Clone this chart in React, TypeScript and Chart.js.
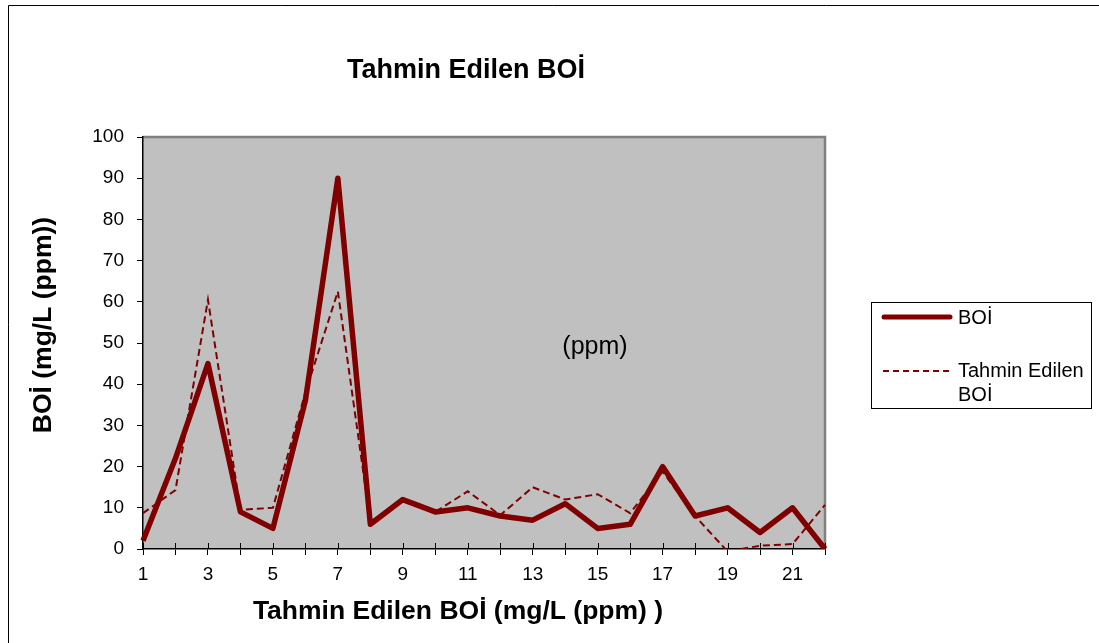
import React, { useEffect, useRef } from "react";
import { Chart, registerables } from "chart.js";

Chart.register(...registerables);

const CATEGORIES = ["1","2","3","4","5","6","7","8","9","10","11","12","13","14","15","16","17","18","19","20","21","22"];
const BOI = [2, 22, 45, 9, 5, 36, 90, 6, 12, 9, 10, 8, 7, 11, 5, 6, 20, 8, 10, 4, 10, 0];
const PREDICTED = [8.7, 14.3, 60.5, 9.5, 10, 38, 62.5, 6.5, 12, 9, 14, 8.2, 15, 12, 13.3, 8.7, 18.8, 8, -0.6, 0.8, 1.2, 10.7];
const SERIES_NAMES = ["BOİ", "Tahmin Edilen BOİ"];
const CHART_TITLE = "Tahmin Edilen BOİ";
const X_TITLE = "Tahmin Edilen BOİ (mg/L (ppm) )";
const Y_TITLE = "BOİ (mg/L (ppm))";
const NOTE = "(ppm)";

const FONT = "'Liberation Sans', Arial, sans-serif";
const RED = "#800000";

const decor = {
  id: "decor",
  beforeDraw(chart: any) {
    const { ctx, chartArea: a } = chart;
    ctx.save();
    ctx.fillStyle = "#c0c0c0";
    ctx.fillRect(a.left, a.top, a.right - a.left, a.bottom - a.top);
    ctx.strokeStyle = "#808080";
    ctx.lineWidth = 2.5;
    ctx.beginPath();
    ctx.moveTo(a.left, a.top);
    ctx.lineTo(a.right, a.top);
    ctx.lineTo(a.right, a.bottom);
    ctx.stroke();
    ctx.restore();
  },
  afterDraw(chart: any) {
    const { ctx, chartArea: a } = chart;
    const xs = chart.scales.x;
    ctx.save();
    // inner halves of x tick marks
    ctx.strokeStyle = "#000";
    ctx.lineWidth = 1;
    for (let i = 0; i < CATEGORIES.length; i++) {
      const px = Math.round(xs.getPixelForTick(i)) + 0.5;
      ctx.beginPath();
      ctx.moveTo(px, a.bottom - 6);
      ctx.lineTo(px, a.bottom);
      ctx.stroke();
    }
    // outer frame
    ctx.beginPath();
    ctx.moveTo(8.5, 643);
    ctx.lineTo(8.5, 5.5);
    ctx.lineTo(1099, 5.5);
    ctx.stroke();

    ctx.fillStyle = "#000";
    ctx.textAlign = "center";
    ctx.textBaseline = "middle";
    ctx.font = `bold 27px ${FONT}`;
    ctx.fillText(CHART_TITLE, 466, 71);
    ctx.font = `bold 26.5px ${FONT}`;
    ctx.fillText(X_TITLE, 458, 612);
    ctx.save();
    ctx.translate(44, 325);
    ctx.rotate(-Math.PI / 2);
    ctx.font = `bold 26.5px ${FONT}`;
    ctx.fillText(Y_TITLE, 0, 0);
    ctx.restore();

    ctx.font = `25px ${FONT}`;
    ctx.fillText(NOTE, 595, 347);

    // legend
    ctx.lineWidth = 1;
    ctx.strokeStyle = "#000";
    ctx.strokeRect(871.5, 302.5, 220, 106);
    ctx.strokeStyle = RED;
    ctx.lineCap = "round";
    ctx.lineWidth = 5;
    ctx.beginPath();
    ctx.moveTo(884, 317);
    ctx.lineTo(950, 317);
    ctx.stroke();
    ctx.lineCap = "butt";
    ctx.lineWidth = 2;
    ctx.setLineDash([6, 4]);
    ctx.beginPath();
    ctx.moveTo(883, 371);
    ctx.lineTo(951, 371);
    ctx.stroke();
    ctx.setLineDash([]);
    ctx.fillStyle = "#000";
    ctx.textAlign = "left";
    ctx.font = `20px ${FONT}`;
    ctx.fillText(SERIES_NAMES[0], 958, 318);
    ctx.fillText("Tahmin Edilen", 958, 371);
    ctx.fillText("BOİ", 958, 395);
    ctx.restore();
  },
};

export default function App() {
  const ref = useRef<HTMLCanvasElement>(null);
  useEffect(() => {
    if (!ref.current) return;
    const chart = new Chart(ref.current, {
      type: "line",
      data: {
        labels: CATEGORIES,
        datasets: [
          {
            label: SERIES_NAMES[0],
            data: BOI,
            borderColor: RED,
            backgroundColor: RED,
            borderWidth: 5.5,
            borderJoinStyle: "round",
            pointRadius: 0,
            tension: 0,
            fill: false,
          },
          {
            label: SERIES_NAMES[1],
            data: PREDICTED,
            borderColor: RED,
            backgroundColor: RED,
            borderWidth: 2,
            borderDash: [7, 4],
            pointRadius: 0,
            tension: 0,
            fill: false,
          },
        ],
      },
      options: {
        responsive: false,
        animation: false,
        devicePixelRatio: 1,
        layout: { padding: { left: 0, top: 137, right: 274, bottom: 0 } },
        plugins: { legend: { display: false }, title: { display: false }, tooltip: { enabled: false } },
        scales: {
          x: {
            type: "category",
            offset: false,
            afterFit: (s: any) => { s.height = 94; },
            grid: { display: true, drawOnChartArea: false, drawTicks: true, tickLength: 6, color: "#000", lineWidth: 1 },
            border: { display: true, color: "#000", width: 1.5 },
            ticks: {
              autoSkip: false,
              maxRotation: 0,
              minRotation: 0,
              padding: 8,
              color: "#000",
              font: { family: FONT, size: 19 },
              callback: (_v: any, i: number) => (i % 2 === 0 ? CATEGORIES[i] : ""),
            },
          },
          y: {
            min: 0,
            max: 100,
            afterFit: (s: any) => { s.width = 143; },
            grid: { display: true, drawOnChartArea: false, drawTicks: true, tickLength: 6, color: "#000", lineWidth: 1 },
            border: { display: true, color: "#000", width: 1.5 },
            ticks: {
              stepSize: 10,
              padding: 13,
              color: "#000",
              font: { family: FONT, size: 19 },
            },
          },
        },
      },
      plugins: [decor],
    });
    return () => chart.destroy();
  }, []);
  return (
    <div style={{ position: "absolute", left: 0, top: 0, width: 1099, height: 643, background: "#fff" }}>
      <canvas ref={ref} width={1099} height={643} style={{ width: 1099, height: 643, display: "block" }} />
    </div>
  );
}
